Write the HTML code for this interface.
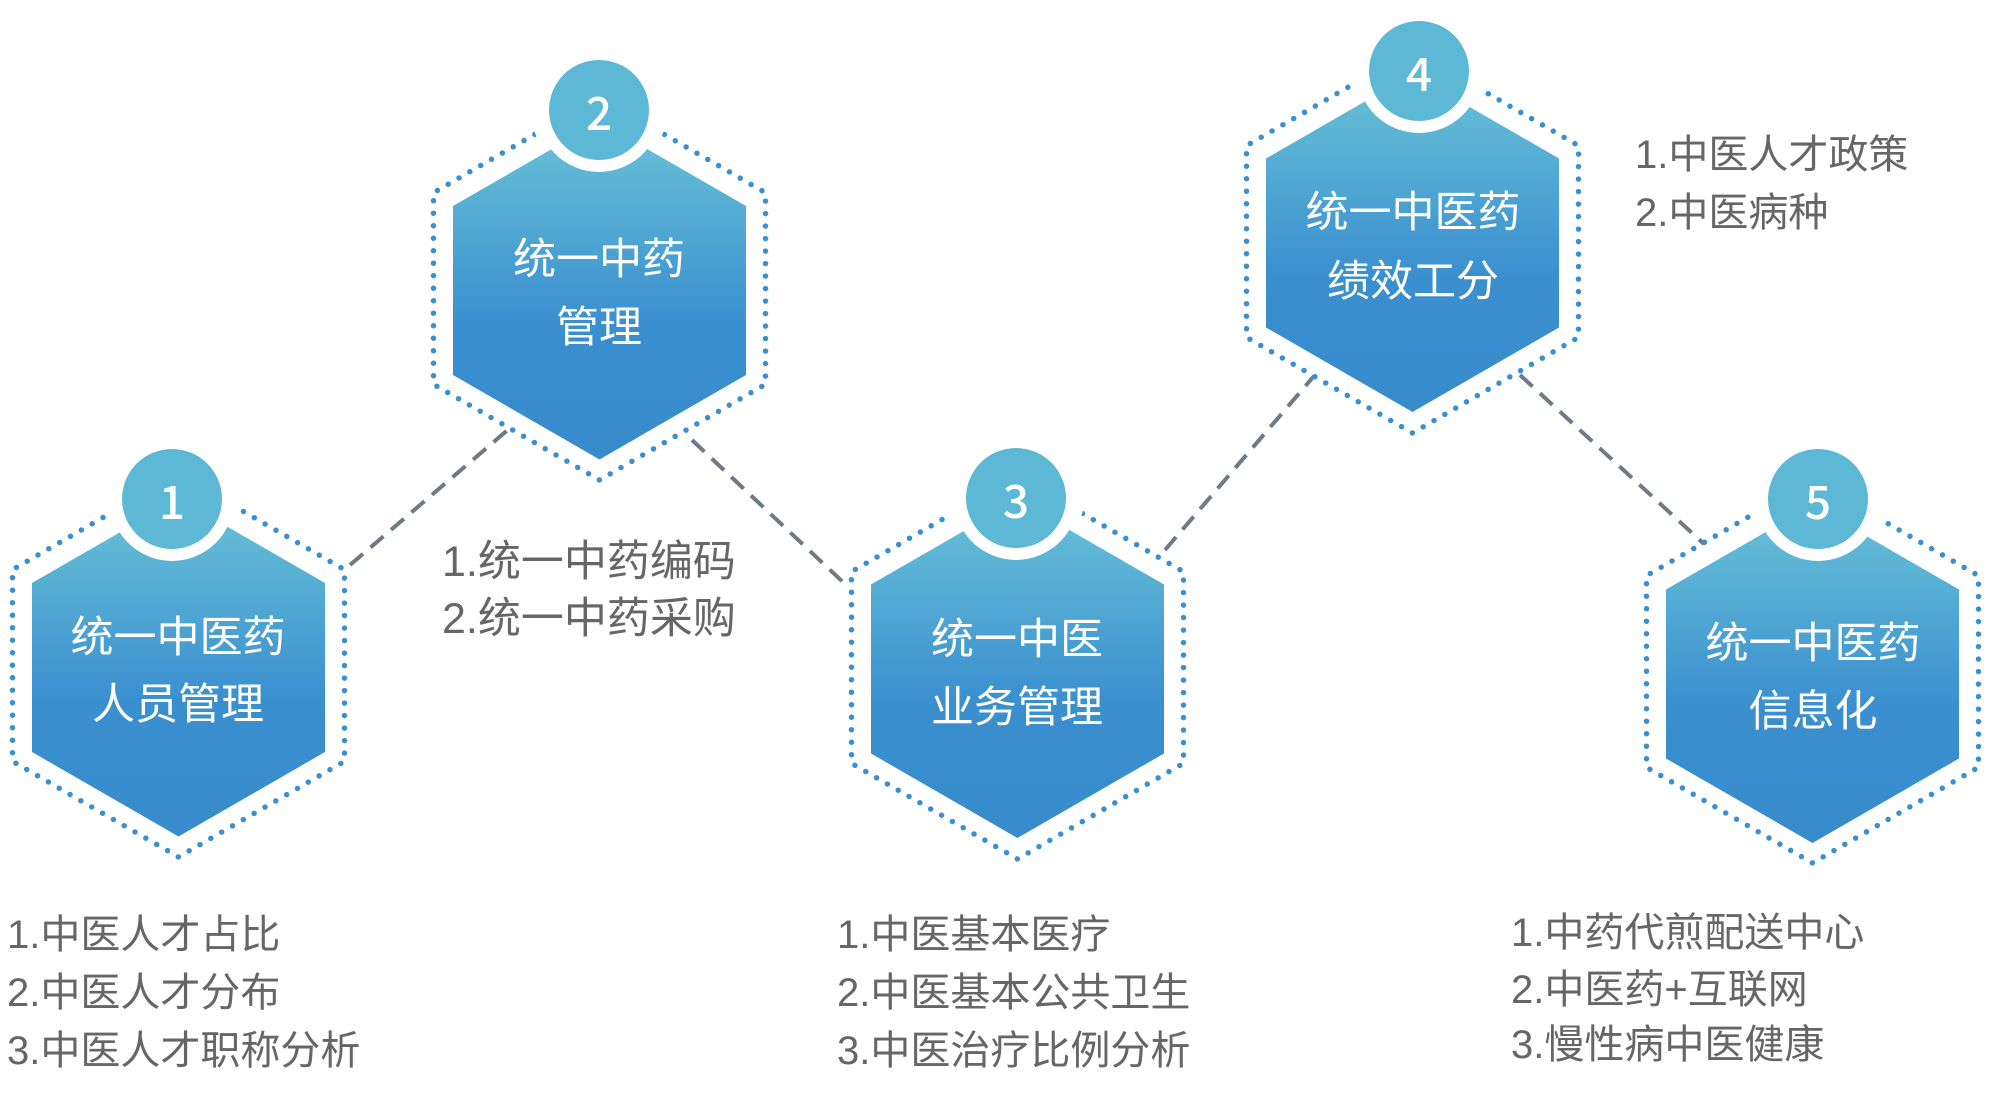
<!DOCTYPE html>
<html><head><meta charset="utf-8"><style>
html,body{margin:0;padding:0;background:#fff;}
svg{display:block;}
.n{font-family:'Noto Sans CJK SC','Liberation Sans',sans-serif;font-weight:500;}
</style></head><body>
<svg width="2002" height="1105" viewBox="0 0 2002 1105" xmlns="http://www.w3.org/2000/svg" font-family="'Liberation Sans','Noto Sans CJK SC',sans-serif">
<defs>
<linearGradient id="g" x1="0" y1="0" x2="0" y2="1">
<stop offset="0" stop-color="#6ac3d7"/>
<stop offset="0.6" stop-color="#3a8fcf"/>
<stop offset="1" stop-color="#378ccc"/>
</linearGradient>
</defs>
<g stroke="#6e7a85" stroke-width="4" stroke-dasharray="17 10" fill="none">
<line x1="350" y1="565" x2="510" y2="428"/>
<line x1="692" y1="440" x2="845" y2="584"/>
<line x1="1165" y1="550" x2="1314" y2="376"/>
<line x1="1520" y1="375" x2="1704" y2="544"/>
</g>
<g>
<g>
<polygon points="178.5,474 344.5,569.7 344.5,761.3 178.5,857 12.5,761.3 12.5,569.7" fill="none" stroke="#3b8fd0" stroke-width="5.5" stroke-linecap="round" stroke-dasharray="0 12.5"/>
<circle cx="172" cy="499" r="68" fill="#fff"/>
<polygon points="178.5,498.5 325,583 325,752 178.5,836.5 32,752 32,583" fill="url(#g)"/>
<circle cx="172" cy="499" r="62" fill="#fff"/>
<circle cx="172" cy="499" r="50" fill="#5cb8d4"/>
<text class="n" x="172" y="500" fill="#fff" font-size="46" text-anchor="middle" dominant-baseline="central">1</text>
<text x="178" y="638" fill="#fff" font-size="43" text-anchor="middle" dominant-baseline="central">统一中医药</text>
<text x="178" y="705" fill="#fff" font-size="43" text-anchor="middle" dominant-baseline="central">人员管理</text>
</g>
<g>
<polygon points="599.5,97 765.5,192.7 765.5,384.3 599.5,480 433.5,384.3 433.5,192.7" fill="none" stroke="#3b8fd0" stroke-width="5.5" stroke-linecap="round" stroke-dasharray="0 12.5"/>
<circle cx="599" cy="110" r="68" fill="#fff"/>
<polygon points="599.5,121.5 746,206 746,375 599.5,459.5 453,375 453,206" fill="url(#g)"/>
<circle cx="599" cy="110" r="62" fill="#fff"/>
<circle cx="599" cy="110" r="50" fill="#5cb8d4"/>
<text class="n" x="599" y="111" fill="#fff" font-size="46" text-anchor="middle" dominant-baseline="central">2</text>
<text x="599" y="260" fill="#fff" font-size="43" text-anchor="middle" dominant-baseline="central">统一中药</text>
<text x="599" y="328" fill="#fff" font-size="43" text-anchor="middle" dominant-baseline="central">管理</text>
</g>
<g>
<polygon points="1017.5,476 1183.5,571.7 1183.5,763.3 1017.5,859 851.5,763.3 851.5,571.7" fill="none" stroke="#3b8fd0" stroke-width="5.5" stroke-linecap="round" stroke-dasharray="0 12.5"/>
<circle cx="1016" cy="498" r="68" fill="#fff"/>
<polygon points="1017.5,500 1164,584.5 1164,753.5 1017.5,838 871,753.5 871,584.5" fill="url(#g)"/>
<circle cx="1016" cy="498" r="62" fill="#fff"/>
<circle cx="1016" cy="498" r="50" fill="#5cb8d4"/>
<text class="n" x="1016" y="499" fill="#fff" font-size="46" text-anchor="middle" dominant-baseline="central">3</text>
<text x="1017" y="640" fill="#fff" font-size="43" text-anchor="middle" dominant-baseline="central">统一中医</text>
<text x="1017" y="708" fill="#fff" font-size="43" text-anchor="middle" dominant-baseline="central">业务管理</text>
</g>
<g>
<polygon points="1412.5,50 1578.5,145.7 1578.5,337.3 1412.5,433 1246.5,337.3 1246.5,145.7" fill="none" stroke="#3b8fd0" stroke-width="5.5" stroke-linecap="round" stroke-dasharray="0 12.5"/>
<circle cx="1419" cy="71" r="68" fill="#fff"/>
<polygon points="1412.5,74 1559,158.5 1559,327.5 1412.5,412 1266,327.5 1266,158.5" fill="url(#g)"/>
<circle cx="1419" cy="71" r="62" fill="#fff"/>
<circle cx="1419" cy="71" r="50" fill="#5cb8d4"/>
<text class="n" x="1419" y="72" fill="#fff" font-size="46" text-anchor="middle" dominant-baseline="central">4</text>
<text x="1413" y="213" fill="#fff" font-size="43" text-anchor="middle" dominant-baseline="central">统一中医药</text>
<text x="1413" y="282" fill="#fff" font-size="43" text-anchor="middle" dominant-baseline="central">绩效工分</text>
</g>
<g>
<polygon points="1812.5,480 1978.5,575.7 1978.5,767.3 1812.5,863 1646.5,767.3 1646.5,575.7" fill="none" stroke="#3b8fd0" stroke-width="5.5" stroke-linecap="round" stroke-dasharray="0 12.5"/>
<circle cx="1818" cy="499" r="68" fill="#fff"/>
<polygon points="1812.5,505 1959,589.5 1959,758.5 1812.5,843 1666,758.5 1666,589.5" fill="url(#g)"/>
<circle cx="1818" cy="499" r="62" fill="#fff"/>
<circle cx="1818" cy="499" r="50" fill="#5cb8d4"/>
<text class="n" x="1818" y="500" fill="#fff" font-size="46" text-anchor="middle" dominant-baseline="central">5</text>
<text x="1813" y="644" fill="#fff" font-size="43" text-anchor="middle" dominant-baseline="central">统一中医药</text>
<text x="1813" y="712" fill="#fff" font-size="43" text-anchor="middle" dominant-baseline="central">信息化</text>
</g>
</g>
<g fill="#666" font-size="40" dominant-baseline="central">
<text x="7" y="935">1.中医人才占比</text>
<text x="7" y="993">2.中医人才分布</text>
<text x="7" y="1051">3.中医人才职称分析</text>
<text x="442" y="562" font-size="43">1.统一中药编码</text>
<text x="442" y="619" font-size="43">2.统一中药采购</text>
<text x="837" y="935">1.中医基本医疗</text>
<text x="837" y="993">2.中医基本公共卫生</text>
<text x="837" y="1051">3.中医治疗比例分析</text>
<text x="1635" y="155">1.中医人才政策</text>
<text x="1635" y="213">2.中医病种</text>
<text x="1511" y="933">1.中药代煎配送中心</text>
<text x="1511" y="990">2.中医药+互联网</text>
<text x="1511" y="1045">3.慢性病中医健康</text>
</g>
</svg>
</body></html>
